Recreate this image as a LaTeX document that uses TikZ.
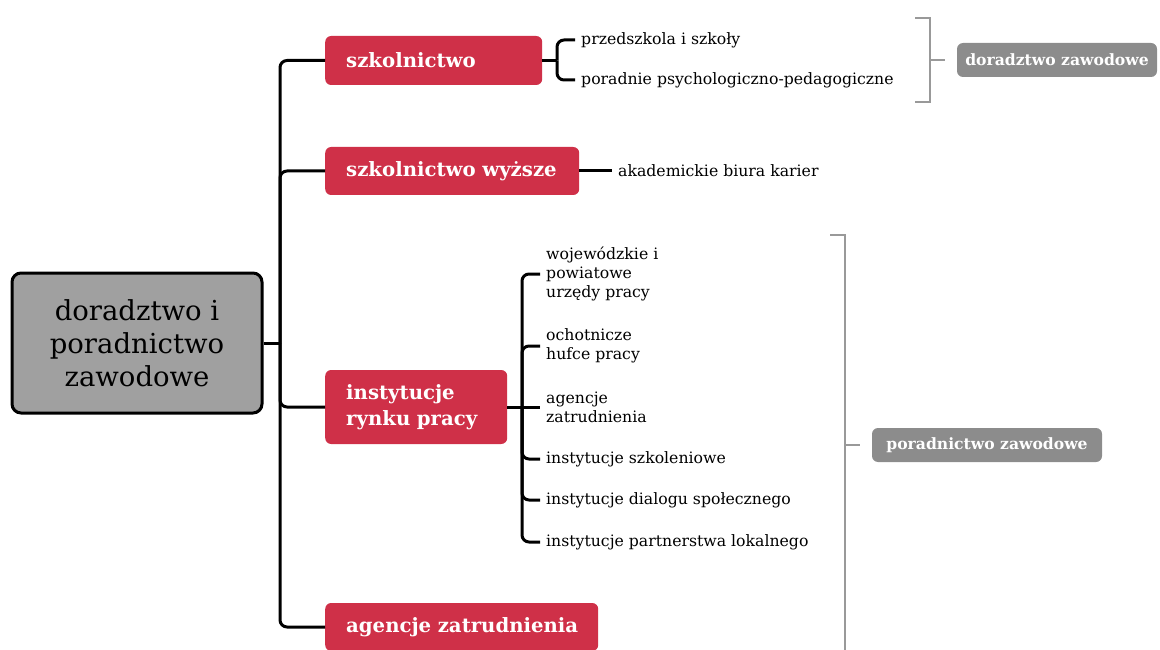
\documentclass[tikz,border=0pt]{standalone}
\usepackage{fontspec}
\setmainfont{DejaVu Serif}
\definecolor{boxred}{HTML}{CF3048}
\definecolor{rootgray}{HTML}{A0A0A0}
\definecolor{taggray}{HTML}{8C8C8C}
\definecolor{brgray}{HTML}{999999}
\tikzset{
  conn/.style={line width=3pt, black, rounded corners=7pt},
  gbr/.style={line width=2pt, brgray},
  redbox/.style={rectangle, rounded corners=6pt, fill=boxred, text=white,
    font=\fontsize{19.7}{26}\selectfont\bfseries,
    align=left, inner xsep=21pt, inner ysep=0pt, anchor=west},
  rootbox/.style={rectangle, rounded corners=9pt, fill=rootgray, draw=black,
    line width=3pt, align=center, font=\fontsize{27.5}{33}\selectfont,
    minimum width=250pt, minimum height=140pt},
  leaf/.style={anchor=west, inner xsep=6pt, inner ysep=0pt, align=left,
    font=\fontsize{15.7}{19}\selectfont},
  tag/.style={rectangle, rounded corners=6pt, fill=taggray, text=white,
    font=\fontsize{15.6}{17}\selectfont\bfseries, inner sep=0pt}
}
\begin{document}
\begin{tikzpicture}[x=1pt,y=-1pt]
\useasboundingbox (0,0) rectangle (1160,650);

% root
\node[rootbox] (root) at (137,343) {doradztwo i\\poradnictwo\\zawodowe};
\coordinate (tr) at (280,343);

% main branches
\node[redbox, text width=175pt, minimum height=49pt] (s1) at (325,60.5) {szkolnictwo};
\node[redbox, text width=212pt, minimum height=48pt] (s2) at (325,171) {\mbox{szkolnictwo wyższe}};
\node[redbox, text width=140pt, minimum height=74pt] (s3) at (325,407) {instytucje\\rynku pracy};
\node[redbox, text width=231pt, minimum height=48pt] (s4) at (325,627) {\mbox{agencje zatrudnienia}};

\draw[conn] (root.east) -- (tr);
\draw[conn] (s1.west) -| (tr);
\draw[conn] (s2.west) -| (tr);
\draw[conn] (s3.west) -| (tr);
\draw[conn] (s4.west) -| (tr);

% szkolnictwo
\coordinate (b1) at (557,60.5);
\node[leaf] (p1) at (575,40) {przedszkola i szkoły};
\node[leaf] (p2) at (575,80) {poradnie psychologiczno-pedagogiczne};
\draw[conn] (s1.east) -- (b1);
\draw[conn] (p1.west) -| (b1);
\draw[conn] (p2.west) -| (b1);

% szkolnictwo wyższe
\node[leaf] (ak) at (612,171) {akademickie biura karier};
\draw[conn] (s2.east) -- (ak.west);

% instytucje rynku pracy
\coordinate (b3) at (522,407);
\node[leaf] (i1) at (540,274) {wojewódzkie i\\powiatowe\\urzędy pracy};
\node[leaf] (i2) at (540,346) {ochotnicze\\hufce pracy};
\node[leaf] (i3) at (540,407) {agencje\\zatrudnienia};
\node[leaf] (i4) at (540,459) {instytucje szkoleniowe};
\node[leaf] (i5) at (540,500) {instytucje dialogu społecznego};
\node[leaf] (i6) at (540,542) {instytucje partnerstwa lokalnego};
\draw[conn] (s3.east) -- (i3.west);
\draw[conn] (i1.west) -| (b3);
\draw[conn] (i2.west) -| (b3);
\draw[conn] (i4.west) -| (b3);
\draw[conn] (i5.west) -| (b3);
\draw[conn] (i6.west) -| (b3);

% summary brackets
\node[tag, minimum width=200pt, minimum height=34pt] (dz) at (1057,60) {doradztwo zawodowe};
\coordinate (g1a) at (915,18);
\coordinate (g1b) at (915,102);
\coordinate (g1m) at (930,60);
\draw[gbr] (g1a) -| (g1m) |- (g1b);
\draw[gbr, shorten >=12pt] (g1m) -- (dz.west);

\node[tag, minimum width=230pt, minimum height=34pt] (pz) at (987,445) {poradnictwo zawodowe};
\coordinate (g2a) at (830,235);
\coordinate (g2b) at (845,660);
\coordinate (g2m) at (845,445);
\draw[gbr] (g2a) -| (g2b);
\draw[gbr, shorten >=12pt] (g2m) -- (pz.west);
\end{tikzpicture}
\end{document}
